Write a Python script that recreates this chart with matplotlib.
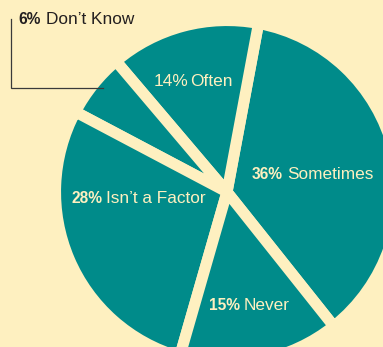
import matplotlib
matplotlib.use("Agg")
import matplotlib.pyplot as plt

# survey answers, counter-clockwise from the Sometimes/Never cut
answers = ["Sometimes", "Often", "Don\u2019t Know", "Isn\u2019t a Factor", "Never"]
shares = [36, 14, 6, 28, 15]

teal = "#008B8A"
cream = "#FEF0C0"
ink = "#231F20"

W, H = 383, 347
plt.rcParams['font.family'] = ['Liberation Sans', 'DejaVu Sans']

fig = plt.figure(figsize=(W / 100, H / 100), dpi=100, facecolor=cream)
ax = fig.add_axes([0, 0, 1, 1])
ax.set_facecolor(cream)

# pie in pixel units (y up), centre and radius
cx, cy = 227, H - 192
ax.pie(shares, colors=[teal] * len(shares), startangle=-51.5,
       center=(cx, cy), radius=171.5, frame=True,
       wedgeprops=dict(edgecolor=cream, linewidth=8, joinstyle="bevel"))
ax.set_xlim(0, W)
ax.set_ylim(0, H)
ax.set_aspect("equal")
ax.axis("off")


def label(x, y, pct, name, name_x, color, bold=True):
    # x, y given in image pixels (y down)
    ax.text(x, H - y, f"{pct}%", fontsize=11.2 if bold else 12.4,
            color=color, fontweight="bold" if bold else "normal",
            ha="left", va="center")
    ax.text(name_x, H - y, name, fontsize=12.4, color=color,
            ha="left", va="center")


label(252, 174, shares[0], answers[0], 287, cream)
label(154, 81, shares[1], answers[1], 190, cream, bold=False)
label(18, 19, shares[2], answers[2], 46, ink)
label(71, 198, shares[3], answers[3], 106, cream)
label(209, 305, shares[4], answers[4], 244, cream)

# leader line for the small slice
ax.plot([11, 11, 103], [H - 19, H - 88, H - 88], color="#3a3a3a", lw=0.9,
        solid_joinstyle="miter")

fig.savefig("out.png", dpi=100, facecolor=cream)
